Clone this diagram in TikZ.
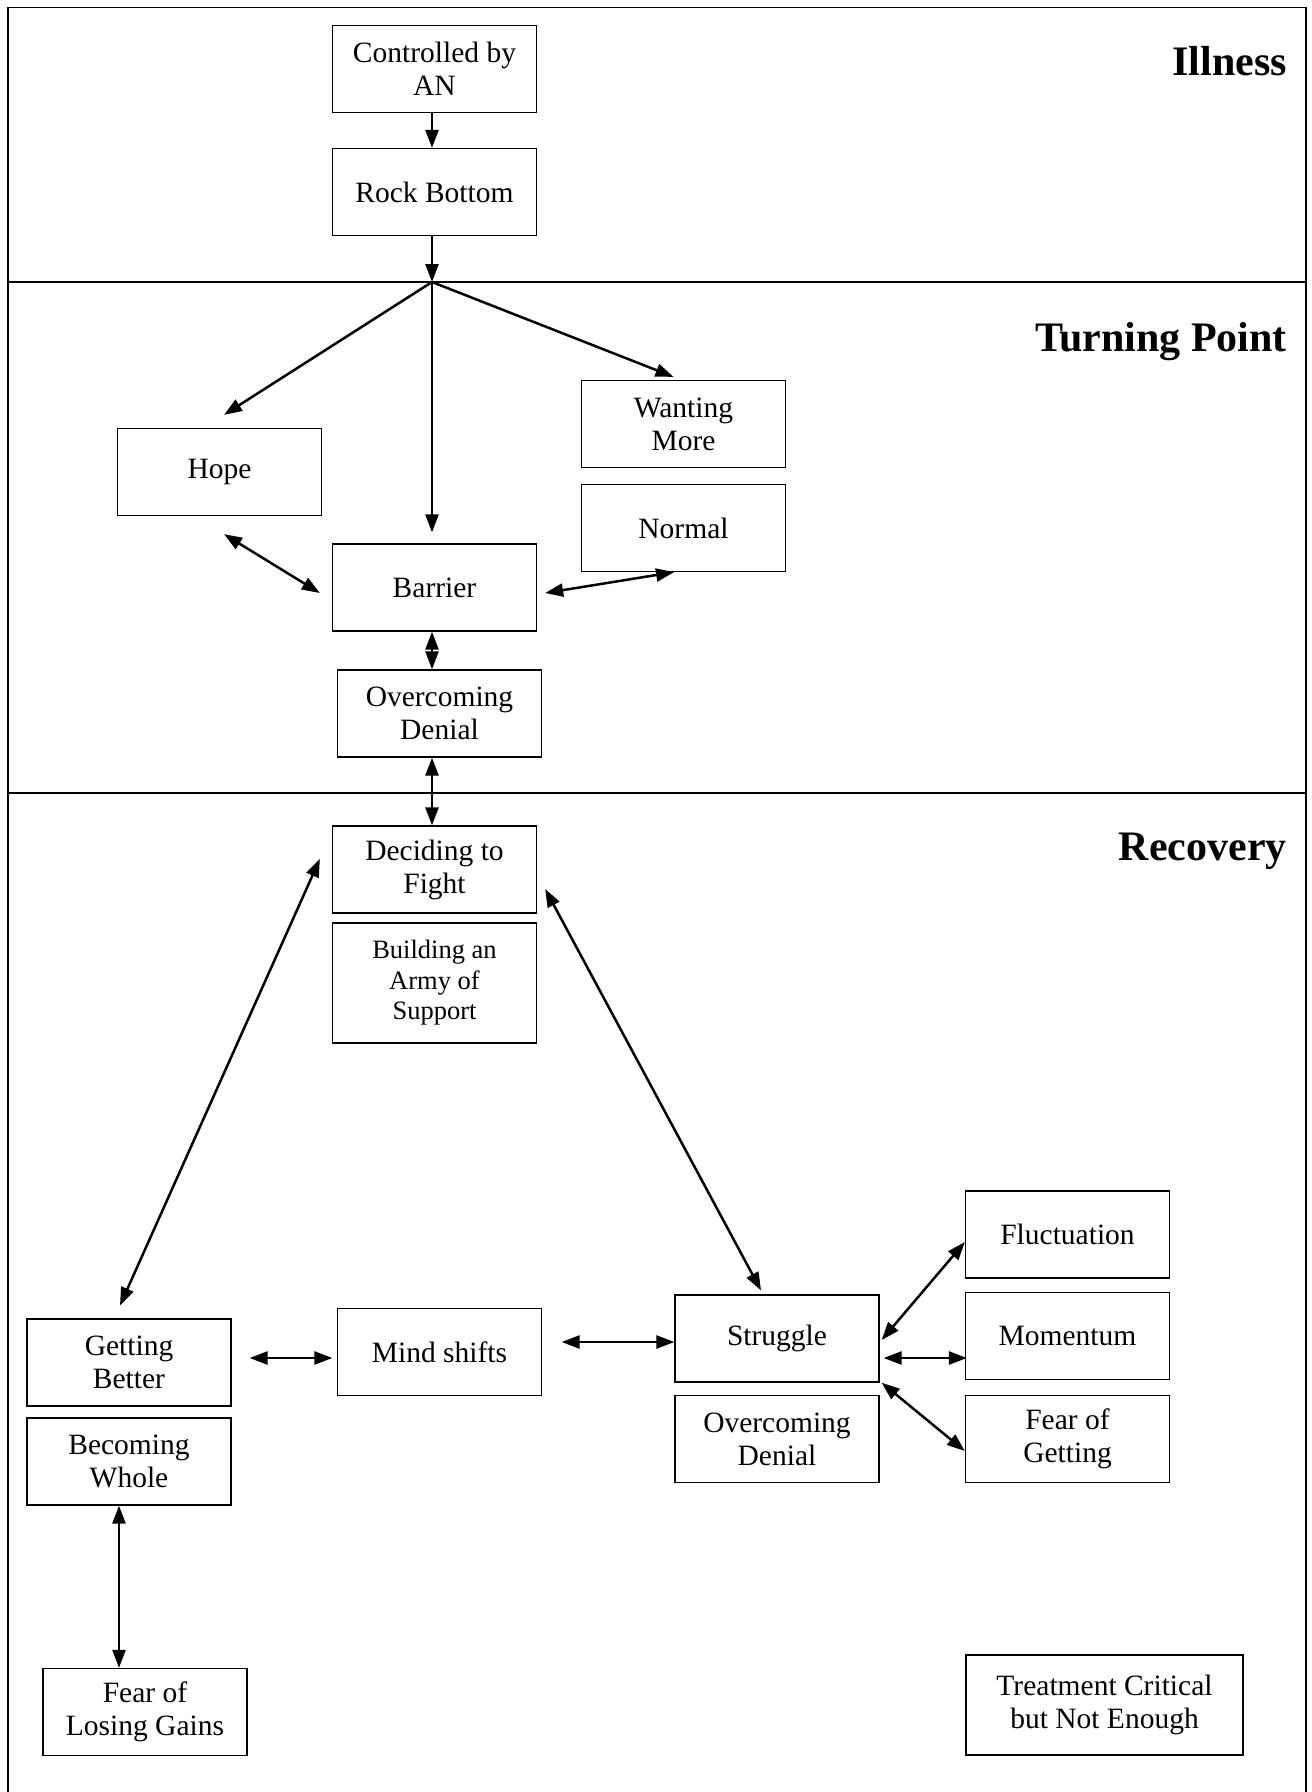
\documentclass[tikz,border=0pt]{standalone}
\usepackage{fontspec}
\setmainfont{Liberation Serif}
\usetikzlibrary{arrows.meta}
\begin{document}
\begin{tikzpicture}[x=1pt,y=-1pt,
  box/.style={draw,line width=1.3pt,minimum width=204pt,minimum height=87pt,inner sep=0pt,align=center,font=\fontsize{29.5}{33}\selectfont},
  conn/.style={line width=2.5pt,-{Triangle[length=18pt,width=13pt]}},
  bi/.style={line width=2.5pt,{Triangle[length=18pt,width=13pt]}-{Triangle[length=18pt,width=13pt]}},
  title/.style={anchor=base east,inner sep=0pt,font=\fontsize{42}{46}\selectfont\bfseries}]
\useasboundingbox (0,0) rectangle (1312,1792);
\fill[white] (0,0) rectangle (1312,1792);
% frame and bands
\draw[line width=1.3pt] (8,1800) -- (8,7.5) -- (1306,7.5) -- (1306,1800);
\draw[line width=1.3pt] (8,282) -- (1306,282);
\draw[line width=1.3pt] (8,793) -- (1306,793);
\node[title] (tIll) at (1287,75) {Illness};
\node[title] (tTurn) at (1287,351) {Turning Point};
\node[title] (tRec) at (1287,860) {Recovery};
% nodes
\node[box] (ctrl) at (434.5,69) {Controlled by\\AN};
\node[box] (rock) at (434.5,192) {Rock Bottom};
\node[box] (hope) at (219.5,472) {Hope};
\node[box] (want) at (683.5,424) {Wanting\\More};
\node[box] (norm) at (683.5,528) {Normal};
\node[box] (barr) at (434.5,587.5) {Barrier};
\node[box] (odA) at (439.5,713.5) {Overcoming\\Denial};
\node[box] (decide) at (434.5,869.5) {Deciding to\\Fight};
\node[box,minimum height=120pt,font=\fontsize{26.5}{30.5}\selectfont] (army) at (434.5,983) {Building an\\Army of\\Support};
\node[box] (gb) at (129,1362.5) {Getting\\Better};
\node[box] (bw) at (129,1461.5) {Becoming\\Whole};
\node[box] (mind) at (439.5,1352) {Mind shifts};
\node[box] (strug) at (777,1338.5) {Struggle};
\node[box] (odB) at (777,1439) {Overcoming\\Denial};
\node[box] (fluct) at (1067.5,1234.5) {Fluctuation};
\node[box] (mom) at (1067.5,1336) {Momentum};
\node[box] (fog) at (1067.5,1439) {Fear of\\Getting};
\node[box] (fol) at (145,1712) {Fear of\\Losing Gains};
\node[box,minimum width=277pt,minimum height=100pt] (treat) at (1104.5,1705) {Treatment Critical\\but Not Enough};
\coordinate (J) at (432,282);
% connectors
\draw[conn] ([xshift=-2.5pt]ctrl.south) -- ([xshift=-2.5pt]rock.north);
\draw[conn] ([xshift=-2.5pt]rock.south) -- (J);
\draw[conn] (J) -- ([xshift=4.5pt,yshift=13pt]hope.north);
\draw[conn] (J) -- ([xshift=-2.5pt,yshift=11pt]barr.north);
\draw[conn] (J) -- ([xshift=-10pt,yshift=3pt]want.north);
\draw[bi] ([xshift=4.5pt,yshift=-18pt]hope.south) -- ([xshift=-12pt,yshift=-5.5pt]barr.west);
\draw[bi] ([xshift=8pt,yshift=-5.5pt]barr.east) -- ([xshift=-9.5pt]norm.south);
\draw[bi] ([xshift=-2.5pt]barr.south) -- ([xshift=-7.5pt]odA.north);
\draw[bi] ([xshift=-7.5pt]odA.south) -- ([xshift=-2.5pt]decide.north);
\draw[bi] ([xshift=-12pt,yshift=10.5pt]decide.west) -- ([xshift=-9pt,yshift=13pt]gb.north);
\draw[bi] ([xshift=8pt,yshift=-19.5pt]decide.east) -- ([xshift=-16pt,yshift=4pt]strug.north);
\draw[bi] ([xshift=18pt,yshift=4.5pt]gb.east) -- ([xshift=-4.5pt,yshift=-6pt]mind.west);
\draw[bi] ([xshift=19.5pt,yshift=10pt]mind.east) -- ([yshift=-3.5pt]strug.west);
\draw[bi] ([xshift=2pt,yshift=-1.5pt]strug.east) -- ([yshift=-7.5pt]fluct.west);
\draw[bi] ([xshift=4pt,yshift=-19.5pt]strug.east) -- ([xshift=2pt,yshift=-22pt]mom.west);
\draw[bi] ([xshift=2pt]strug.south east) -- ([yshift=-12pt]fog.west);
\draw[bi] ([xshift=-10pt]bw.south) -- ([xshift=-26pt]fol.north);
\end{tikzpicture}
\end{document}
